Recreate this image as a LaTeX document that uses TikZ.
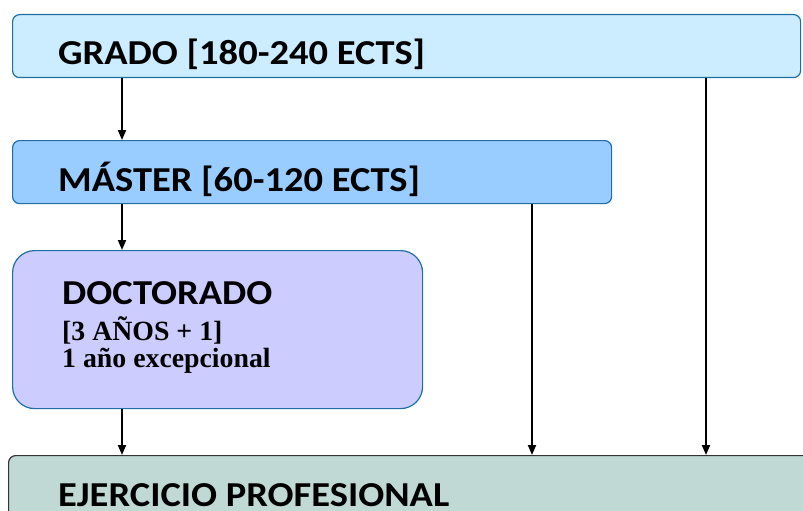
\documentclass[tikz,border=0pt]{standalone}
\usepackage{fontspec}
\setmainfont{Carlito}[FakeStretch=1.1]
\newfontfamily\timesfont{Liberation Serif}
\usetikzlibrary{arrows.meta}

\definecolor{gradofill}{HTML}{CCECFF}
\definecolor{masterfill}{HTML}{99CCFF}
\definecolor{doctfill}{HTML}{CCCCFF}
\definecolor{ejerfill}{HTML}{C0D9D5}
\definecolor{boxline}{HTML}{1F6FA6}

\tikzset{
  stage/.style={draw=boxline, line width=1.2pt, rounded corners=7pt,
    anchor=north west, inner sep=0pt},
  stagetext/.style={anchor=base west, inner sep=0pt,
    font=\fontsize{35}{38}\selectfont\bfseries},
  flow/.style={-{Triangle[length=10pt,width=8pt]}, line width=1.8pt, black}
}

\begin{document}
\begin{tikzpicture}[x=1pt, y=-1pt]
\useasboundingbox (0,0) rectangle (803,511);

% the four stages
\node[stage, fill=gradofill, minimum width=788pt, minimum height=63pt] (grado) at (12,14) {};
\node[stage, fill=masterfill, minimum width=599pt, minimum height=63pt] (master) at (12,140) {};
\node[stage, fill=doctfill, rounded corners=22pt, minimum width=410pt, minimum height=158pt] (doct) at (12,250) {};
\node[stage, draw=black!80, fill=ejerfill, minimum width=820pt, minimum height=80pt] (ejer) at (8,455) {};

\node[stagetext] (gradotxt) at (58,64) {GRADO [180-240 ECTS]};
\node[stagetext] (mastertxt) at (58,191) {MÁSTER [60-120 ECTS]};
\node[stagetext] (docttxt) at (62,304) {DOCTORADO};
\node[anchor=base west, inner sep=0pt, align=left,
  font=\timesfont\fontsize{27.8}{27}\selectfont\bfseries] (doctsub) at (62,367)
  {[3 AÑOS + 1]\\1 año excepcional};
\node[stagetext] (ejertxt) at (58,506) {EJERCICIO PROFESIONAL};

% columns of the arrows
\coordinate (colA) at (122,0);
\coordinate (colB) at (532,0);
\coordinate (colC) at (706,0);

\draw[flow] (colA |- grado.south) -- (colA |- master.north);
\draw[flow] (colA |- master.south) -- (colA |- doct.north);
\draw[flow] (colA |- doct.south) -- (colA |- ejer.north);
\draw[flow] (colB |- master.south) -- (colB |- ejer.north);
\draw[flow] (colC |- grado.south) -- (colC |- ejer.north);
\end{tikzpicture}
\end{document}
